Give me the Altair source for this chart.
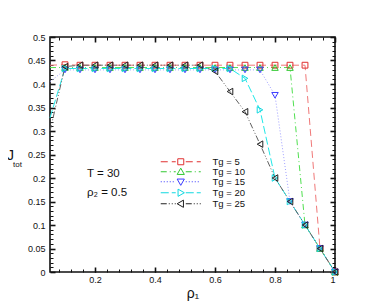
import altair as alt
import pandas as pd

# ---------------- data ----------------
rho = [0.05, 0.10, 0.15, 0.20, 0.25, 0.30, 0.35, 0.40, 0.45, 0.50,
       0.55, 0.60, 0.65, 0.70, 0.75, 0.80, 0.85, 0.90, 0.95, 1.00]

series_names = ["Tg = 5", "Tg = 10", "Tg = 15", "Tg = 20", "Tg = 25"]

j_tg5 = [0.440, 0.441, 0.440, 0.440, 0.440, 0.440, 0.440, 0.440, 0.440, 0.440,
         0.440, 0.440, 0.440, 0.440, 0.440, 0.440, 0.440, 0.440, 0.050, 0.000]
j_tg10 = [0.435, 0.435, 0.435, 0.435, 0.435, 0.435, 0.435, 0.435, 0.435, 0.435,
          0.435, 0.435, 0.435, 0.435, 0.435, 0.435, 0.435, 0.100, 0.050, 0.000]
j_tg15 = [0.405, 0.430, 0.430, 0.430, 0.430, 0.430, 0.430, 0.430, 0.430, 0.430,
          0.430, 0.430, 0.430, 0.430, 0.430, 0.376, 0.150, 0.100, 0.050, 0.000]
j_tg20 = [0.328, 0.433, 0.433, 0.433, 0.433, 0.433, 0.433, 0.433, 0.433, 0.433,
          0.433, 0.433, 0.433, 0.412, 0.345, 0.200, 0.150, 0.100, 0.050, 0.000]
j_tg25 = [0.300, 0.437, 0.440, 0.440, 0.440, 0.440, 0.440, 0.440, 0.440, 0.440,
          0.440, 0.427, 0.384, 0.341, 0.272, 0.200, 0.150, 0.100, 0.050, 0.000]

all_series = [j_tg5, j_tg10, j_tg15, j_tg20, j_tg25]

x_major = [0.2, 0.4, 0.6, 0.8, 1.0]
y_major = [0.0, 0.05, 0.1, 0.15, 0.2, 0.25, 0.3, 0.35, 0.4, 0.45, 0.5]
x_minor = [round(0.08 + 0.04 * i, 2) for i in range(23) if round(0.08 + 0.04 * i, 2) < 1.0]
y_minor = [round(0.01 * i, 2) for i in range(1, 50)]

# ---------------- styles ----------------
line_colors = ["#f07878", "#50e050", "#a0a0ff", "#20e8e8", "#606060"]
mark_colors = ["#e03030", "#30c830", "#3a3aff", "#10d8e0", "#202020"]
shapes = ["square", "triangle-up", "triangle-down", "triangle-right", "triangle-left"]
dashes = [[7, 4], [6, 3, 1, 3], [1, 2], [8, 3], [6, 2, 1, 2, 1, 2]]
FONT = "Liberation Sans"

rows = []
for name, vals in zip(series_names, all_series):
    for r, j in zip(rho, vals):
        rows.append({"rho": r, "J": j, "series": name})
df = pd.DataFrame(rows)

xs = alt.Scale(domain=[0.05, 1.0], nice=False, zero=False)
ys = alt.Scale(domain=[0.0, 0.5], nice=False)

# legend symbol paths: dashed line + hollow marker (units of sqrt(size)/2 = 3 px)
R = 3.0
marker_paths = [
    "M-1,-1L1,-1L1,1L-1,1Z",
    "M0,-1.2L1.2,0.9L-1.2,0.9Z",
    "M0,1.2L1.2,-0.9L-1.2,-0.9Z",
    "M1.2,0L-0.9,-1.2L-0.9,1.2Z",
    "M-1.2,0L0.9,-1.2L0.9,1.2Z",
]


def dash_path(a, b, pattern):
    out = []
    pos = a
    k = 0
    while pos < b:
        ln = pattern[k % len(pattern)]
        end = min(pos + ln, b)
        if k % 2 == 0:
            out.append("M%.3f,0L%.3f,0" % (pos / R, end / R))
        pos += ln
        k += 1
    return "".join(out)


legend_paths = []
for mp, d in zip(marker_paths, dashes):
    legend_paths.append(dash_path(-20, -5, d) + dash_path(5, 20, d) + mp)

# ---------------- layers ----------------
layers = []

for name, lc, d in zip(series_names, line_colors, dashes):
    layers.append(
        alt.Chart(df).transform_filter(alt.datum.series == name)
        .mark_line(color=lc, strokeDash=d, strokeWidth=1)
        .encode(x=alt.X("rho:Q", scale=xs, axis=None),
                y=alt.Y("J:Q", scale=ys, axis=None),
                order="rho:Q")
    )

for name, mc, sh in zip(series_names, mark_colors, shapes):
    layers.append(
        alt.Chart(df).transform_filter((alt.datum.series == name) & (alt.datum.rho >= 0.09))
        .mark_point(shape=sh, color=mc, filled=False, size=34 if sh == "square" else 42,
                    strokeWidth=1, opacity=1)
        .encode(x=alt.X("rho:Q", scale=xs, axis=None),
                y=alt.Y("J:Q", scale=ys, axis=None))
    )

leg = alt.Legend(orient="none", legendX=126, legendY=120, title=None,
                 symbolOpacity=1, symbolSize=36, symbolStrokeWidth=1,
                 labelFont=FONT, labelFontSize=9.5, labelColor="#111",
                 labelOffset=27, rowPadding=-1, padding=0, symbolOffset=0,
                 symbolFillColor="transparent")

# axis carrier with labels + legend
layers.append(
    alt.Chart(df).mark_point(opacity=0, filled=False).encode(
        x=alt.X("rho:Q", scale=xs,
                axis=alt.Axis(orient="bottom", values=x_major, format="~g", ticks=False,
                              tickSize=0, domain=False, grid=False, labelPadding=3,
                              labelFont=FONT, labelFontSize=9, labelColor="#111",
                              title="ρ₁", titleFont=FONT, titleFontSize=14,
                              titleFontWeight="normal", titleColor="#111",
                              titleBaseline="alphabetic", titleY=25)),
        y=alt.Y("J:Q", scale=ys,
                axis=alt.Axis(orient="left", values=y_major, format="~g", ticks=False,
                              tickSize=0, domain=False, grid=False, labelPadding=5,
                              labelFont=FONT, labelFontSize=9, labelColor="#111",
                              title=None)),
        color=alt.Color("series:N", scale=alt.Scale(domain=series_names, range=mark_colors),
                        legend=leg),
        shape=alt.Shape("series:N", scale=alt.Scale(domain=series_names, range=legend_paths),
                        legend=leg),
    )
)


def tick_layer(xo, yo, xv, yv, size, width):
    return alt.Chart(df).mark_point(opacity=0).encode(
        x=alt.X("rho:Q", scale=xs,
                axis=alt.Axis(orient=xo, values=xv, labels=False, domain=False, grid=False,
                              ticks=True, tickSize=size, tickWidth=width, tickColor="#111",
                              offset=-size, title=None)),
        y=alt.Y("J:Q", scale=ys,
                axis=alt.Axis(orient=yo, values=yv, labels=False, domain=False, grid=False,
                              ticks=True, tickSize=size, tickWidth=width, tickColor="#111",
                              offset=-size, title=None)),
    )


layers.append(tick_layer("bottom", "left", x_major, y_major, 5, 1.6))
layers.append(tick_layer("bottom", "left", x_minor, y_minor, 3, 1))
layers.append(tick_layer("top", "right", x_major, y_major, 5, 1.6))
layers.append(tick_layer("top", "right", x_minor, y_minor, 3, 1))

one = pd.DataFrame({"a": [0]})


def label(txt, x, y, size):
    return alt.Chart(one).mark_text(text=txt, align="left", baseline="middle",
                                    font=FONT, fontSize=size, color="#111").encode(
        x=alt.value(x), y=alt.value(y))


layers.append(label("T = 30", 37, 137, 11.5))
layers.append(label("ρ₂ = 0.5", 37, 156, 11.5))
layers.append(label("J", -43, 119, 14))
layers.append(label("tot", -37, 128, 8))

chart = alt.layer(*layers).resolve_axis(x="independent", y="independent").properties(
    width=285, height=235,
    autosize=alt.AutoSizeParams(type="none"),
    padding={"left": 42, "top": 29, "right": 39, "bottom": 31},
).configure_view(stroke="#111", strokeWidth=1.6)

chart.save("out.html", embed_options={"renderer": "svg", "actions": False})
